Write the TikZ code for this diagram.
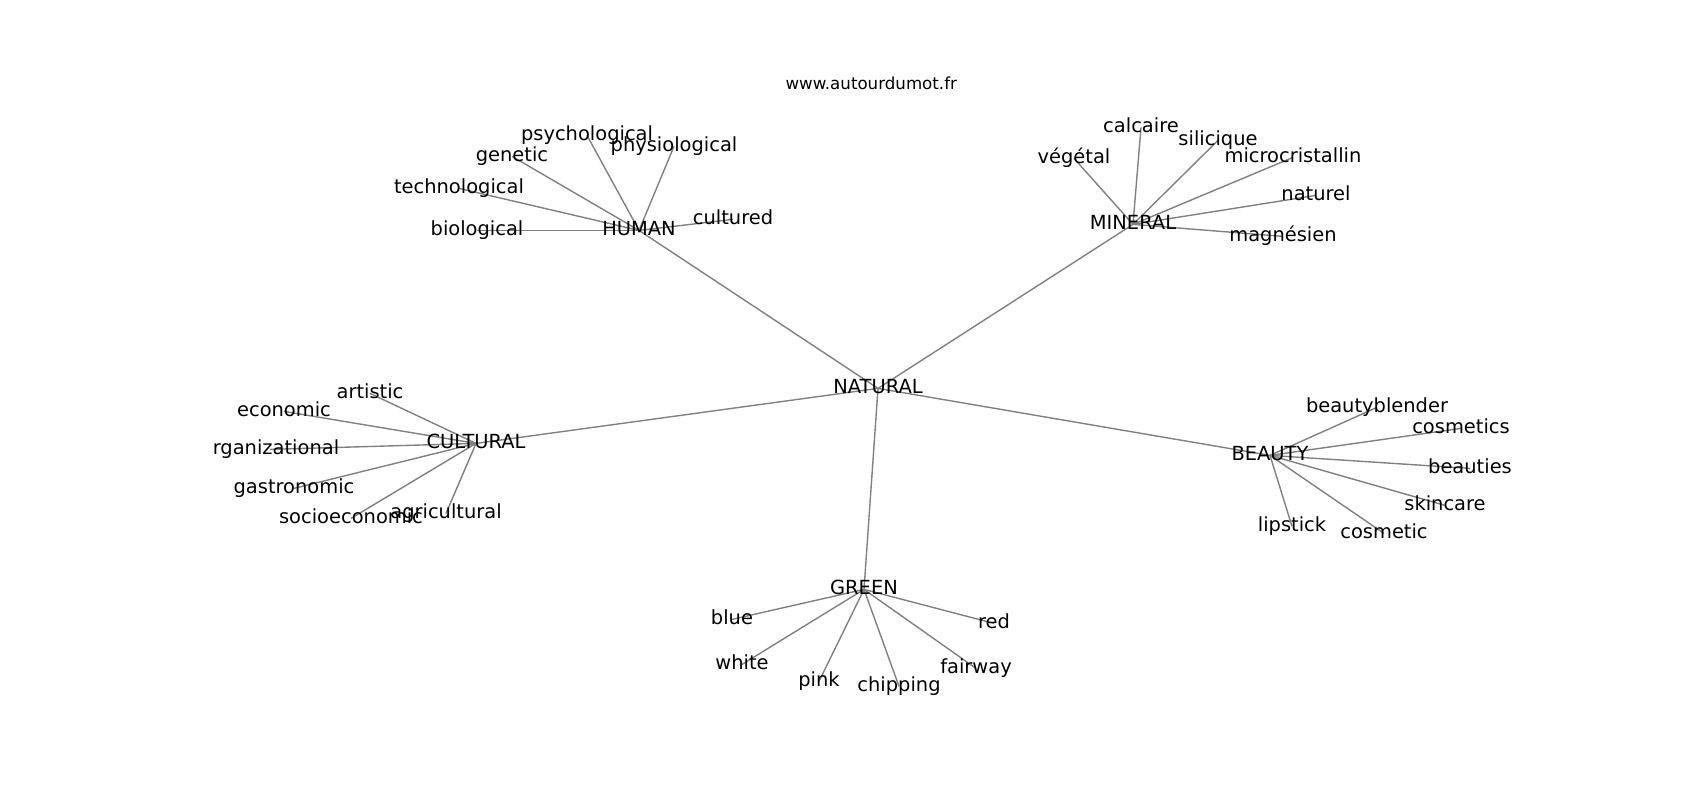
\documentclass[tikz,border=0pt]{standalone}
\usepackage{fontspec}
\setmainfont{DejaVu Sans}
\usetikzlibrary{backgrounds}
\begin{document}
\begin{tikzpicture}[x=0.72pt,y=-0.72pt,
  lbl/.style={font=\fontsize{14}{16.8}\selectfont, inner sep=0pt, text height=10.64pt, text depth=2.91pt, anchor=center, yshift=-1pt},
  ttl/.style={font=\fontsize{12}{14.4}\selectfont, inner sep=0pt, anchor=base, yshift=-1pt},
  lnk/.style={draw=gray, line width=1pt}]
\useasboundingbox (0,0) rectangle (1700,800);
\node[ttl] (title) at (871.25,87.7) {www.autourdumot.fr};
\begin{scope}
\clip (212.5,96) rectangle (1530,712);
\node[lbl] (natural) at (878,387) {NATURAL};
\node[lbl] (human) at (639,229) {HUMAN};
\node[lbl] (mineral) at (1133,223) {MINERAL};
\node[lbl] (cultural) at (476,442) {CULTURAL};
\node[lbl] (beauty) at (1270,454) {BEAUTY};
\node[lbl] (green) at (864,588) {GREEN};
% HUMAN
\node[lbl] (biological) at (477,229) {biological};
\node[lbl] (technological) at (459,187) {technological};
\node[lbl] (genetic) at (512,155) {genetic};
\node[lbl] (psychological) at (587,134) {psychological};
\node[lbl] (physiological) at (674,145) {physiological};
\node[lbl] (cultured) at (733,218) {cultured};
% MINERAL
\node[lbl] (veg) at (1074,157) {végétal};
\node[lbl] (calcaire) at (1141,126) {calcaire};
\node[lbl] (silicique) at (1218,139) {silicique};
\node[lbl] (micro) at (1293,156) {microcristallin};
\node[lbl] (naturel) at (1316,194) {naturel};
\node[lbl] (mag) at (1283,235) {magnésien};
% CULTURAL
\node[lbl] (artistic) at (370,392) {artistic};
\node[lbl] (economic) at (284,410) {economic};
\node[lbl] (organizational) at (270,448) {organizational};
\node[lbl] (gastronomic) at (294,487) {gastronomic};
\node[lbl] (socioeconomic) at (351,517) {socioeconomic};
\node[lbl] (agricultural) at (446,512) {agricultural};
% BEAUTY
\node[lbl] (beautyblender) at (1377,406) {beautyblender};
\node[lbl] (cosmetics) at (1461,427) {cosmetics};
\node[lbl] (beauties) at (1470,467) {beauties};
\node[lbl] (skincare) at (1445,504) {skincare};
\node[lbl] (lipstick) at (1292,525) {lipstick};
\node[lbl] (cosmetic) at (1384,532) {cosmetic};
% GREEN
\node[lbl] (blue) at (732,618) {blue};
\node[lbl] (red) at (994,622) {red};
\node[lbl] (white) at (742,663) {white};
\node[lbl] (pink) at (819,680) {pink};
\node[lbl] (chipping) at (899,685) {chipping};
\node[lbl] (fairway) at (976,667) {fairway};
\end{scope}
\begin{pgfonlayer}{background}
\fill[white] (0,0) rectangle (1700,800);
\foreach \a/\b in {natural/human,natural/mineral,natural/cultural,natural/beauty,natural/green,
  human/biological,human/technological,human/genetic,human/psychological,human/physiological,human/cultured,
  mineral/veg,mineral/calcaire,mineral/silicique,mineral/micro,mineral/naturel,mineral/mag,
  cultural/artistic,cultural/economic,cultural/organizational,cultural/gastronomic,cultural/socioeconomic,cultural/agricultural,
  beauty/beautyblender,beauty/cosmetics,beauty/beauties,beauty/skincare,beauty/lipstick,beauty/cosmetic,
  green/blue,green/red,green/white,green/pink,green/chipping,green/fairway}
  \draw[lnk] (\a.center) -- (\b.center);
\end{pgfonlayer}
\end{tikzpicture}
\end{document}
